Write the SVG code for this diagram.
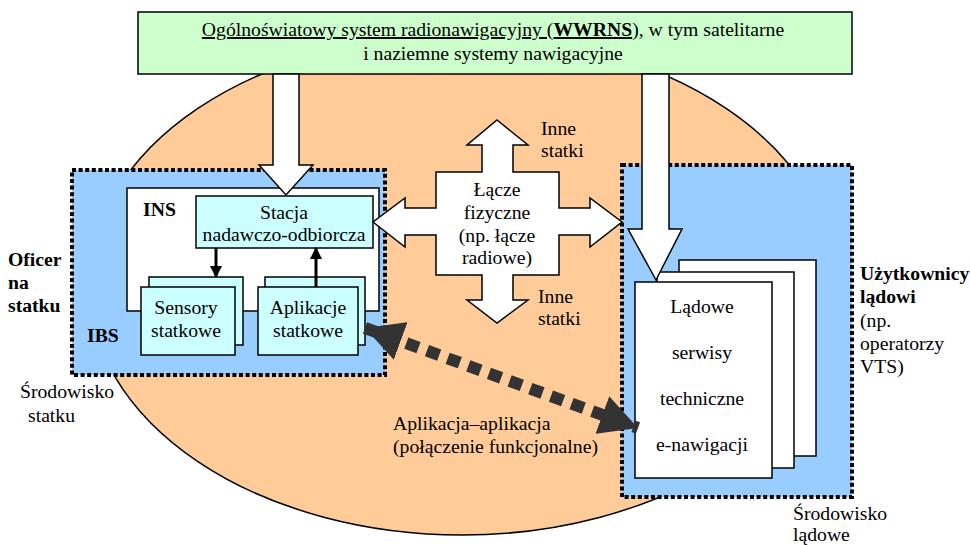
<svg xmlns="http://www.w3.org/2000/svg" width="970" height="545" viewBox="0 0 970 545" font-family="'Liberation Serif', 'DejaVu Serif', serif">
<style>
text{font-family:'Liberation Serif','DejaVu Serif',serif;font-size:19.7px;fill:#000}
.b{font-weight:bold}
.m{text-anchor:middle}
.env{fill:#99ccff;stroke:#000;stroke-width:4;stroke-dasharray:4 2.6}
.box{stroke:#000;stroke-width:1.5}
.cy{fill:#ccffff}
.wh{fill:#fff}
.bigarrow{fill:#fff;stroke:#000;stroke-width:1.5;stroke-linejoin:miter}
.thin{stroke:#000;stroke-width:3;fill:none}
</style>
<defs>
<marker id="ah" viewBox="0 0 12 12" refX="11" refY="6" markerWidth="12" markerHeight="12" markerUnits="userSpaceOnUse" orient="auto">
<path d="M0,0 L12,6 L0,12 Z" fill="#000"/>
</marker>
<marker id="dh" viewBox="0 0 38 40" refX="38" refY="20" markerWidth="38" markerHeight="40" markerUnits="userSpaceOnUse" orient="auto-start-reverse">
<path d="M0,0 L38,20 L0,40 Z" fill="#333"/>
</marker>
</defs>

<g id="sea">
<ellipse cx="462" cy="285" rx="373" ry="250" fill="#ffcc99" stroke="#000" stroke-width="1.5"/>
</g>

<g id="wwrns">
<rect x="138" y="12" width="714" height="62" fill="#ccffcc" class="box"/>
<text x="493" y="36" class="m"><tspan text-decoration="underline">Ogólnoświatowy system radionawigacyjny (<tspan class="b">WWRNS</tspan>),</tspan> w tym satelitarne</text>
<text x="493" y="60" class="m">i naziemne systemy nawigacyjne</text>
</g>

<g id="ibs">
<rect x="72" y="170" width="313" height="205" class="env"/>
<text x="87" y="342" class="b">IBS</text>
</g>

<g id="land-env">
<rect x="622" y="165" width="230" height="332" class="env"/>
</g>

<g id="ins">
<rect x="127" y="188" width="252" height="123" class="box wh"/>
<text x="143" y="216" class="b">INS</text>
</g>

<g id="stacja">
<rect x="196" y="196" width="177" height="52" class="box cy"/>
<text x="284" y="219" class="m">Stacja</text>
<text x="284" y="241" class="m">nadawczo-odbiorcza</text>
</g>

<g id="sensory">
<rect x="149" y="277" width="94" height="68" class="box cy"/>
<rect x="141" y="287" width="94" height="68" class="box cy"/>
<text x="186" y="314" class="m">Sensory</text>
<text x="186" y="337" class="m">statkowe</text>
</g>

<g id="aplikacje">
<rect x="265" y="277" width="100" height="68" class="box cy"/>
<rect x="258" y="287" width="100" height="68" class="box cy"/>
<text x="308" y="314" class="m">Aplikacje</text>
<text x="308" y="337" class="m">statkowe</text>
</g>

<g id="ladowe">
<rect x="679" y="260" width="137" height="196" class="box wh"/>
<rect x="657" y="272" width="137" height="196" class="box wh"/>
<rect x="635" y="282" width="137" height="196" class="box wh"/>
<text x="702" y="313" class="m">Lądowe</text>
<text x="702" y="359" class="m">serwisy</text>
<text x="702" y="405" class="m">techniczne</text>
<text x="702" y="451" class="m">e-nawigacji</text>
</g>

<g id="lacze">
<polygon class="bigarrow" points="497,120 528,145 513,145 513,172 559,172 559,208 590,208 590,198 622,222 590,247 590,235 559,235 559,275 513,275 513,300 528,300 497,323 467,300 482,300 482,275 436,275 436,235 405,235 405,247 373,222 405,198 405,208 436,208 436,172 482,172 482,145 467,145"/>
<text x="497" y="196" class="m">Łącze</text>
<text x="497" y="219" class="m">fizyczne</text>
<text x="497" y="242" class="m">(np. łącze</text>
<text x="497" y="264" class="m">radiowe)</text>
</g>

<g id="labels">
<text x="541" y="135">Inne</text>
<text x="541" y="157">statki</text>
<text x="538" y="303">Inne</text>
<text x="538" y="325">statki</text>
<text x="8" y="266" class="b">Oficer</text>
<text x="8" y="289" class="b">na</text>
<text x="8" y="312" class="b">statku</text>
<text x="20" y="398">Środowisko</text>
<text x="28" y="422">statku</text>
<text x="860" y="280" class="b">Użytkownicy</text>
<text x="860" y="303" class="b">lądowi</text>
<text x="860" y="327">(np.</text>
<text x="860" y="350">operatorzy</text>
<text x="860" y="373">VTS)</text>
<text x="793" y="520">Środowisko</text>
<text x="793" y="541">lądowe</text>
<text x="393" y="430">Aplikacja–aplikacja</text>
<text x="393" y="453">(połączenie funkcjonalne)</text>
</g>

<g id="connectors">
<polygon class="bigarrow" points="273,74 299,74 299,165 313,165 286,195 259,165 273,165"/>
<polygon class="bigarrow" points="642,74 669,74 669,229 682,229 656,280 628,229 642,229"/>
<line x1="216" y1="248" x2="216" y2="277" class="thin" marker-end="url(#ah)"/>
<line x1="316" y1="287" x2="316" y2="248" class="thin" marker-end="url(#ah)"/>
<line x1="365" y1="328" x2="638" y2="428" stroke="#333" stroke-width="12" stroke-dasharray="13 9" marker-start="url(#dh)" marker-end="url(#dh)"/>
</g>
</svg>
